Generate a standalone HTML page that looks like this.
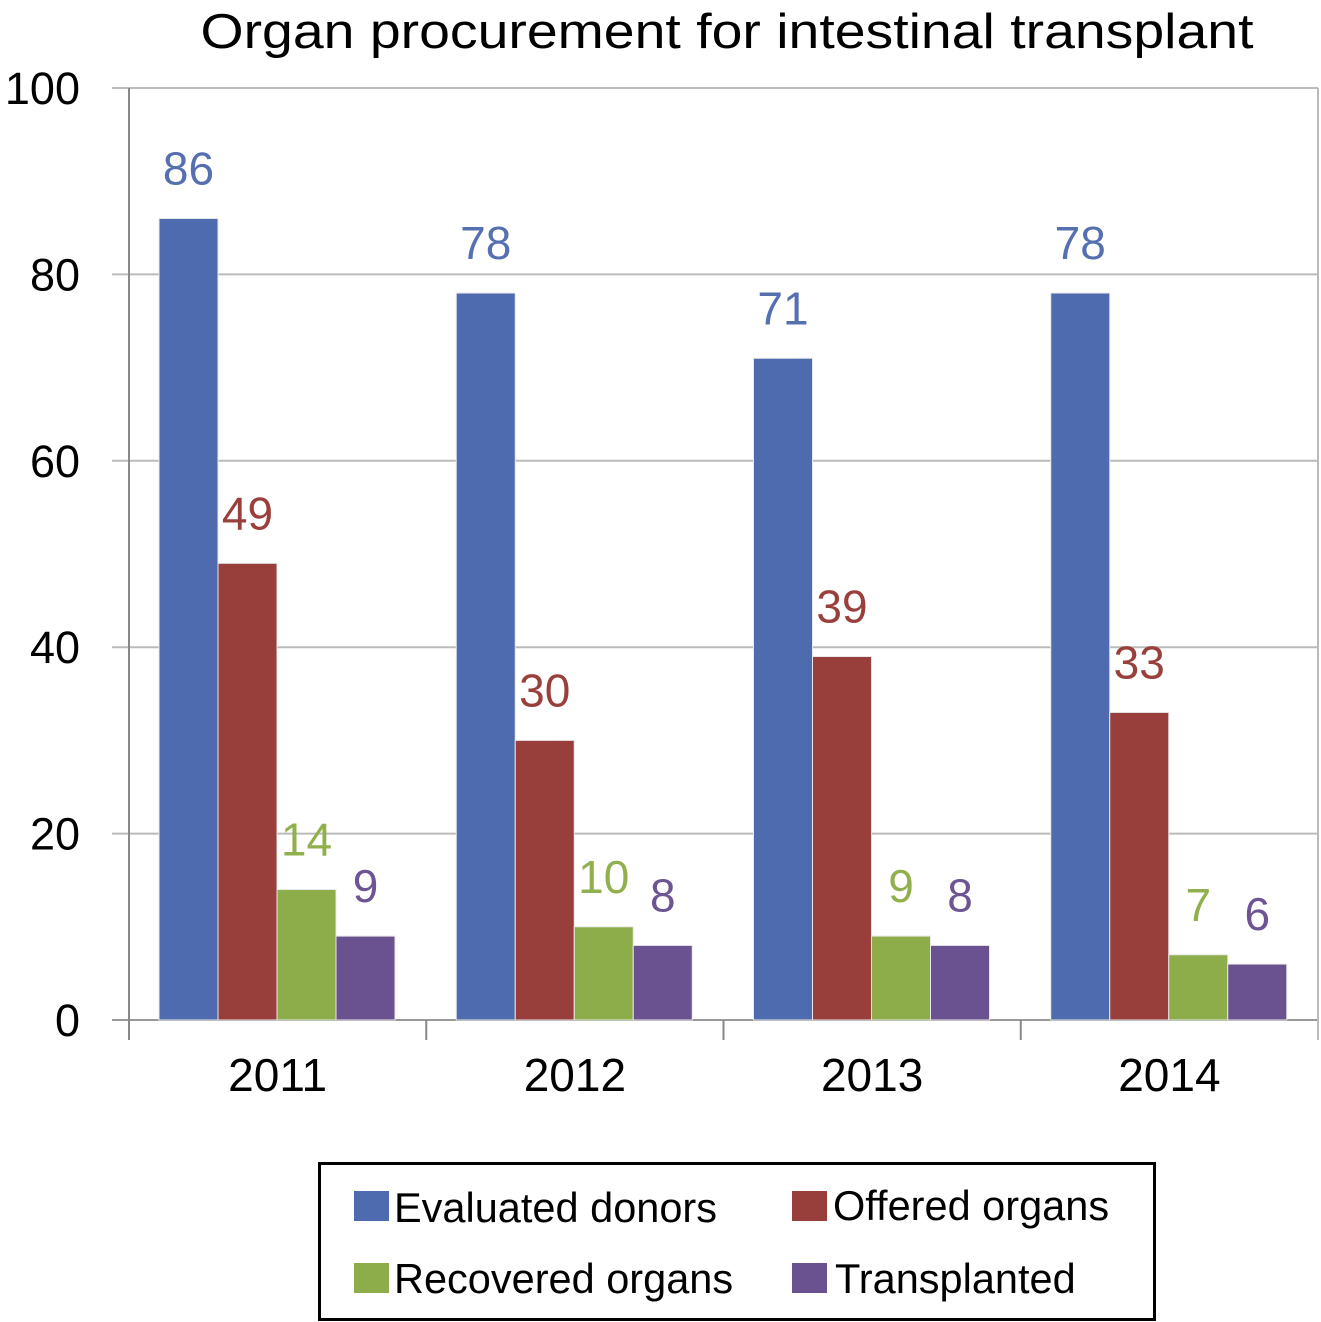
<!DOCTYPE html>
<html><head><meta charset="utf-8"><style>html,body{margin:0;padding:0;background:#fff}svg{display:block}text{font-family:"Liberation Sans",Arial,sans-serif}</style></head>
<body>
<svg id="chart" width="1321" height="1322" viewBox="0 0 1321 1322" xmlns="http://www.w3.org/2000/svg">
<text x="727" y="48" font-size="49" text-anchor="middle" textLength="1053" lengthAdjust="spacingAndGlyphs">Organ procurement for intestinal transplant</text>
<g id="grid"></g><g id="bars"></g><g id="axes"></g>
<rect x="319.5" y="1163.5" width="835" height="156" fill="#fff" stroke="#000" stroke-width="3"/>
<g><rect x="354" y="1191" width="35" height="30" fill="#4f6baf"/><text x="394" y="1222" font-size="41.5">Evaluated donors</text></g>
<g><rect x="792" y="1191" width="35" height="30" fill="#983f3c"/><text x="833" y="1220" font-size="41.5">Offered organs</text></g>
<g><rect x="354" y="1263" width="35" height="30" fill="#8cad4a"/><text x="394" y="1293" font-size="41.5">Recovered organs</text></g>
<g><rect x="792" y="1263" width="35" height="30" fill="#6a5190"/><text x="835" y="1293" font-size="41.5">Transplanted</text></g>
</svg>
<script>
const categories = ["2011","2012","2013","2014"];
const evaluated = [86,78,71,78];
const offered = [49,30,39,33];
const recovered = [14,10,9,7];
const transplanted = [9,8,8,6];
const yTicks = [0,20,40,60,80,100];
const seriesNames = ["evaluated","offered","recovered","transplanted"];
const series = [evaluated, offered, recovered, transplanted];
const colors = ["#4f6baf","#983f3c","#8cad4a","#6a5190"];
const labelColors = ["#5570b0","#9a403c","#8fb04c","#6d5492"];
const NS = "http://www.w3.org/2000/svg";
const x0 = 129, x1 = 1318, yTop = 88, yBot = 1020;
const y = v => yBot - (v/100)*(yBot-yTop);
const gw = (x1-x0)/categories.length;
function mk(tag, attrs, parent, txt){const e=document.createElementNS(NS,tag);for(const k in attrs)e.setAttribute(k,attrs[k]);if(txt!==undefined)e.textContent=txt;parent.appendChild(e);return e;}
const grid=document.getElementById('grid'), bars=document.getElementById('bars'), axes=document.getElementById('axes');
yTicks.forEach(t=>{
  const gl=mk('line',{x1:112,x2:x1,y1:y(t),y2:y(t),stroke:t===0?'#999':'#bbb','stroke-width':2},grid);
  
  
  const tl=mk('text',{x:80,y:y(t)+16,'font-size':45,'text-anchor':'end'},axes,String(t));
  
  
});
mk('line',{x1:x0,x2:x0,y1:yTop,y2:1040,stroke:'#888','stroke-width':2},axes);
mk('line',{x1:x1,x2:x1,y1:yTop,y2:1040,stroke:'#bbb','stroke-width':2},axes);
categories.forEach((c,i)=>{
  const gx=x0+i*gw;
  if(i>0){mk('line',{x1:gx,x2:gx,y1:yBot,y2:1040,stroke:'#888','stroke-width':2},axes);}
  const cl=mk('text',{x:gx+gw/2,y:1091,'font-size':46,'text-anchor':'middle'},axes,c);
  
  
  const bw=59;
  series.forEach((s,j)=>{
    const bx=gx+30+j*bw, v=s[i];
    const r=mk('rect',{x:bx,y:y(v),width:bw,height:yBot-y(v),fill:colors[j],stroke:'#e8e8e8','stroke-width':1},bars);
    
    
    const vl=mk('text',{x:bx+bw/2,y:y(v)-34,'font-size':46,'text-anchor':'middle',fill:labelColors[j]},bars,String(v));
    
    
  });
});
</script>
</body></html>
